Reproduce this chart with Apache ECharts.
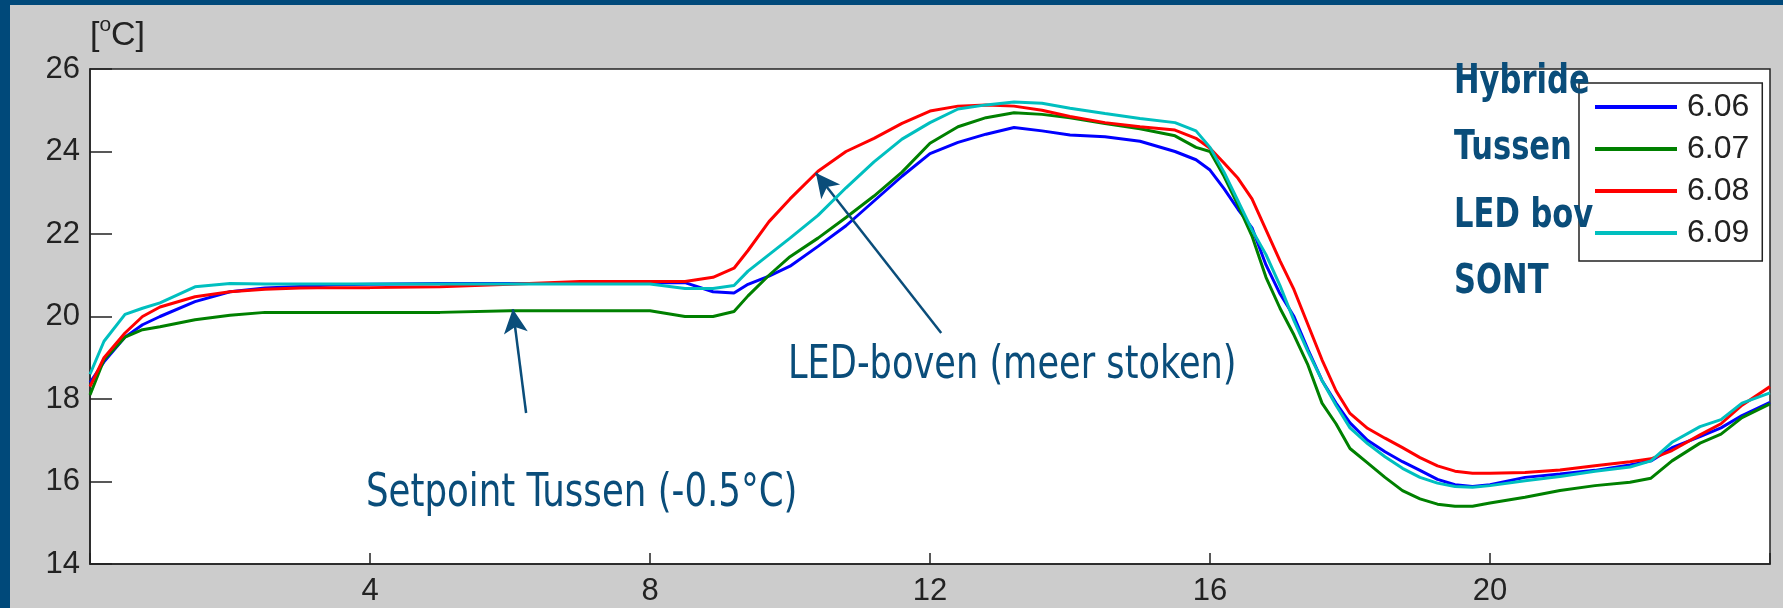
<!DOCTYPE html>
<html>
<head>
<meta charset="utf-8">
<script src="https://cdn.jsdelivr.net/npm/echarts@6/dist/echarts.min.js"></script>
<style>
html,body{margin:0;padding:0;width:1783px;height:608px;background:#00497a;overflow:hidden;}
#chart{position:absolute;left:10px;top:5px;width:1773px;height:603px;}
</style>
</head>
<body>
<div id="chart"></div>
<script>
// hours of the day (x axis)
const hours = [0, 0.2, 0.5, 0.75, 1, 1.5, 2, 2.5, 3, 3.5, 4, 5, 6, 7, 8, 8.5, 8.9, 9.2, 9.4, 9.7, 10, 10.4, 10.8, 11.2, 11.6, 12, 12.4, 12.8, 13.2, 13.6, 14, 14.5, 15, 15.5, 15.8, 16, 16.2, 16.4, 16.6, 16.8, 17, 17.2, 17.4, 17.6, 17.8, 18, 18.25, 18.5, 18.75, 19, 19.25, 19.5, 19.75, 20, 20.5, 21, 21.5, 22, 22.3, 22.6, 23, 23.3, 23.6, 24];

const seriesNames = ['6.06', '6.07', '6.08', '6.09'];
const seriesColors = ['#0000ff', '#008000', '#ff0000', '#00bfbf'];

// 6.06 (Hybride)
const temp606 = [18.4, 18.9, 19.5, 19.8, 20.0, 20.36, 20.6, 20.69, 20.73, 20.77, 20.78, 20.8, 20.8, 20.8, 20.82, 20.82, 20.6, 20.57, 20.78, 20.98, 21.22, 21.7, 22.2, 22.8, 23.4, 23.95, 24.22, 24.42, 24.58, 24.5, 24.4, 24.36, 24.25, 24.0, 23.8, 23.55, 23.1, 22.6, 22.15, 21.25, 20.55, 20.0, 19.2, 18.45, 17.9, 17.42, 17.0, 16.72, 16.48, 16.27, 16.05, 15.92, 15.88, 15.92, 16.1, 16.18, 16.27, 16.4, 16.5, 16.82, 17.09, 17.3, 17.6, 17.92];
// 6.07 (Tussen)
const temp607 = [18.1, 18.95, 19.5, 19.68, 19.75, 19.92, 20.03, 20.1, 20.1, 20.1, 20.1, 20.1, 20.14, 20.14, 20.14, 20.0, 20.0, 20.12, 20.5, 21.0, 21.45, 21.9, 22.4, 22.92, 23.5, 24.2, 24.6, 24.82, 24.94, 24.9, 24.82, 24.68, 24.55, 24.38, 24.1, 24.0, 23.4, 22.7, 21.95, 20.95, 20.2, 19.55, 18.82, 17.9, 17.4, 16.8, 16.45, 16.1, 15.78, 15.58, 15.45, 15.4, 15.4, 15.48, 15.62, 15.78, 15.9, 15.98, 16.08, 16.5, 16.93, 17.15, 17.55, 17.88];
// 6.08 (LED boven)
const temp608 = [18.3, 19.0, 19.6, 20.0, 20.23, 20.48, 20.6, 20.66, 20.69, 20.7, 20.7, 20.72, 20.78, 20.85, 20.85, 20.85, 20.95, 21.17, 21.6, 22.3, 22.85, 23.52, 24.0, 24.32, 24.68, 24.98, 25.1, 25.13, 25.1, 25.0, 24.85, 24.7, 24.6, 24.52, 24.32, 24.08, 23.72, 23.35, 22.85, 22.1, 21.35, 20.65, 19.8, 18.95, 18.2, 17.65, 17.29, 17.05, 16.82, 16.58, 16.38, 16.25, 16.2, 16.2, 16.22, 16.28, 16.38, 16.48, 16.55, 16.75, 17.13, 17.4, 17.85, 18.3];
// 6.09 (SONT)
const temp609 = [18.6, 19.4, 20.05, 20.2, 20.33, 20.72, 20.8, 20.79, 20.79, 20.79, 20.79, 20.79, 20.79, 20.79, 20.79, 20.68, 20.68, 20.75, 21.1, 21.5, 21.9, 22.45, 23.12, 23.75, 24.3, 24.7, 25.03, 25.13, 25.2, 25.17, 25.05, 24.92, 24.8, 24.7, 24.5, 24.1, 23.5, 22.8, 22.1, 21.5, 20.75, 19.9, 19.15, 18.45, 17.85, 17.3, 16.92, 16.6, 16.32, 16.1, 15.96, 15.88, 15.86, 15.9, 16.02, 16.12, 16.25, 16.35, 16.5, 16.95, 17.33, 17.5, 17.9, 18.15];

const xTicks = [4, 8, 12, 16, 20];
const yTicks = [14, 16, 18, 20, 22, 24, 26];

// annotation arrows: [tail, tip] in data coords
const arrowLed = [[12.16, 19.6], [10.37, 23.48]];
const arrowSetpoint = [[6.23, 17.66], [6.04, 20.18]];

const sideLabels = ['Hybride', 'Tussen', 'LED bov', 'SONT'];
const annLed = 'LED-boven (meer stoken)';
const annSetpoint = 'Setpoint Tussen (-0.5°C)';

const allTemps = [temp606, temp607, temp608, temp609];
const annColor = '#0a4d7a';
const narrowFont = '"Liberation Sans Narrow", "DejaVu Sans Condensed", sans-serif';
const axisFont = '"Liberation Sans", Arial, sans-serif';

const series = seriesNames.map((name, i) => ({
  name: name,
  type: 'line',
  data: hours.map((h, j) => [h, allTemps[i][j]]),
  symbol: 'none',
  showSymbol: false,
  lineStyle: { color: seriesColors[i], width: 3 },
  itemStyle: { color: seriesColors[i] },
  animation: false,
  z: 2 + i
}));

series.push({
  name: 'arrows',
  type: 'line',
  data: [],
  symbol: 'none',
  animation: false,
  z: 10,
  markLine: {
    silent: true,
    animation: false,
    symbol: ['none', 'arrow'],
    symbolSize: [18, 24],
    label: { show: false },
    lineStyle: { color: annColor, width: 2.5, type: 'solid' },
    data: [
      [{ coord: arrowLed[0] }, { coord: arrowLed[1] }],
      [{ coord: arrowSetpoint[0] }, { coord: arrowSetpoint[1] }]
    ]
  }
});

function txt(str, x, y, font, fill, sx) {
  return {
    type: 'text', x: x, y: y, scaleX: sx || 1, z: 100,
    style: { text: str, x: 0, y: 0, font: font, fill: fill, textAlign: 'left', textVerticalAlign: 'middle' }
  };
}

// positions relative to the chart div (page minus 10,5)
const sideY = [78, 144, 212, 278];
const graphics = [
  txt('[', 80, 30.5, '34px ' + axisFont, '#222'),
  txt('o', 89.5, 20, '21px ' + axisFont, '#222'),
  txt('C]', 101, 30.5, '34px ' + axisFont, '#222'),
  txt(annLed, 778, 361, '46px ' + narrowFont, annColor, 0.85),
  txt(annSetpoint, 356, 489, '46px ' + narrowFont, annColor, 0.86)
];
sideLabels.forEach((t, i) => {
  graphics.push(txt(t, 1444, sideY[i], 'bold 40px ' + narrowFont, annColor, 0.85));
});

const chart = echarts.init(document.getElementById('chart'));
chart.setOption({
  backgroundColor: '#cccccc',
  animation: false,
  grid: {
    left: 80, top: 64, right: 13, bottom: 44,
    show: true, backgroundColor: '#ffffff', borderColor: '#222', borderWidth: 1.5
  },
  xAxis: {
    type: 'value', min: 0, max: 24, interval: 4,
    axisLine: { show: true, lineStyle: { color: '#222', width: 1.5 } },
    axisTick: { show: true, inside: true, length: 11, lineStyle: { color: '#222', width: 1.5 } },
    axisLabel: {
      margin: 12, fontSize: 31, color: '#222', fontFamily: 'Liberation Sans',
      formatter: v => xTicks.indexOf(v) >= 0 ? String(v) : ''
    },
    splitLine: { show: false }
  },
  yAxis: {
    type: 'value', min: 14, max: 26, interval: 2,
    axisLine: { show: true, lineStyle: { color: '#222', width: 1.5 } },
    axisTick: { show: true, inside: true, length: 22, lineStyle: { color: '#222', width: 1.5 } },
    axisLabel: {
      margin: 10, fontSize: 31, color: '#222', fontFamily: 'Liberation Sans',
      formatter: v => yTicks.indexOf(v) >= 0 ? String(v) : ''
    },
    splitLine: { show: false }
  },
  legend: {
    data: seriesNames,
    orient: 'vertical',
    left: 1569, top: 78,
    padding: [8, 13, 12, 16],
    itemWidth: 82, itemHeight: 4, itemGap: 10,
    icon: 'rect',
    backgroundColor: '#ffffff',
    borderColor: '#222', borderWidth: 1.5, borderRadius: 0,
    textStyle: { fontSize: 32, lineHeight: 32, color: '#222', fontFamily: 'Liberation Sans', padding: [0, 0, 0, 5] },
    selectedMode: false
  },
  graphic: graphics,
  series: series
});
</script>
</body>
</html>
